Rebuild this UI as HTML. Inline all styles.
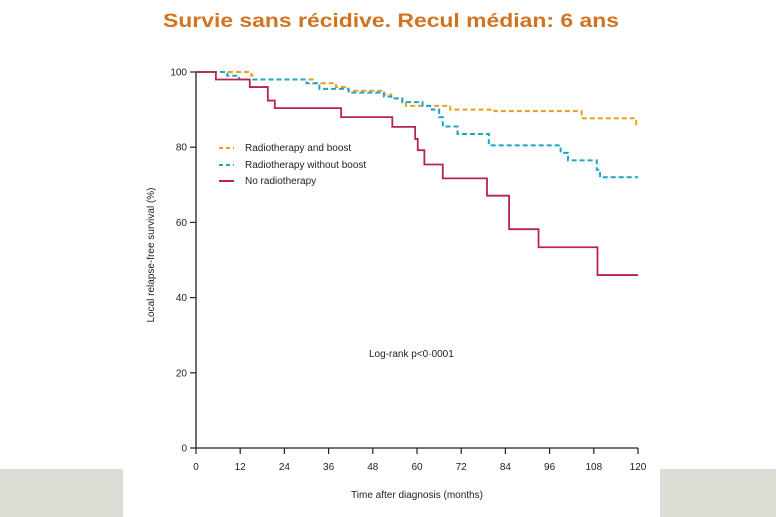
<!DOCTYPE html>
<html><head><meta charset="utf-8"><style>
body{margin:0;background:#fff;}
svg{display:block;font-family:"Liberation Sans",sans-serif;}
</style></head><body>
<svg id="chart" width="776" height="517" viewBox="0 0 776 517">
<rect x="0" y="469" width="123" height="48" fill="#dcded5"/>
<rect x="660" y="469" width="116" height="48" fill="#dcded5"/>
<text x="391" y="27" text-anchor="middle" font-size="19" font-weight="bold" fill="#d2731f" textLength="456" lengthAdjust="spacingAndGlyphs">Survie sans récidive. Recul médian: 6 ans</text>
<g id="axes"></g>
<g id="series"></g>
<g font-size="10" fill="#222">
<line x1="219" y1="148" x2="234" y2="148" stroke="#e8a21a" stroke-width="2" stroke-dasharray="4,3"/>
<text x="245" y="151">Radiotherapy and boost</text>
<line x1="219" y1="165" x2="234" y2="165" stroke="#1fa6c3" stroke-width="2" stroke-dasharray="4,3"/>
<text x="245" y="168">Radiotherapy without boost</text>
<line x1="219" y1="181" x2="234" y2="181" stroke="#b8234f" stroke-width="2"/>
<text x="245" y="184">No radiotherapy</text>
</g>
<text x="369" y="357" font-size="10" fill="#222">Log-rank p&lt;0·0001</text>
<text x="417" y="498" text-anchor="middle" font-size="10" fill="#222">Time after diagnosis (months)</text>
<text transform="translate(154,255) rotate(-90)" text-anchor="middle" font-size="10" fill="#222">Local relapse-free survival (%)</text>
</svg>
<script>
const xTicks=[0,12,24,36,48,60,72,84,96,108,120];
const yTicks=[0,20,40,60,80,100];
const boostT=[0,15,15.5,31.7,38,41.4,51,53,56,57,69,81,104.7,119.5];
const boostS=[100,99,98,97,96,95,94,93,92,91,90,89.6,87.7,86];
const noBoostT=[0,8.5,11.7,30,33.5,41.4,51,53,56,61.5,64,66,67,71,79.5,99,101,108.8,109.7];
const noBoostS=[100,99,98,97,95.5,94.5,93.5,93,92,91,90,88,85.5,83.5,80.5,78.5,76.5,74,72];
const noRtT=[0,5.4,14.6,19.5,21.4,39.4,53.3,59.5,60.2,62,67,79,85,93,109];
const noRtS=[100,98,96,92.4,90.4,88,85.4,82.2,79.2,75.4,71.7,67.1,58.2,53.4,46];
const X0=196,X1=638,Y0=448,Y1=72;
const sx=t=>X0+(t/120)*(X1-X0);
const sy=v=>Y0-(v/100)*(Y0-Y1);
const NS="http://www.w3.org/2000/svg";
const axes=document.getElementById('axes');
function mk(tag,attrs,parent){const e=document.createElementNS(NS,tag);for(const k in attrs)e.setAttribute(k,attrs[k]);parent.appendChild(e);return e;}
let l=mk('line',{x1:X0,y1:Y1,x2:X0,y2:Y0,stroke:'#222','stroke-width':1.3},axes);


l=mk('line',{x1:X0,y1:Y0,x2:X1,y2:Y0,stroke:'#222','stroke-width':1.3},axes);


xTicks.forEach(t=>{
 const tk=mk('line',{x1:sx(t),y1:Y0,x2:sx(t),y2:Y0+6,stroke:'#222','stroke-width':1.2},axes);
 
 
 const tx=mk('text',{x:sx(t),y:Y0+22,'text-anchor':'middle','font-size':10,fill:'#222'},axes);
 tx.textContent=t;
 
 
});
yTicks.forEach(v=>{
 const tk=mk('line',{x1:X0-6,y1:sy(v),x2:X0,y2:sy(v),stroke:'#222','stroke-width':1.2},axes);
 
 
 const tx=mk('text',{x:X0-9,y:sy(v)+3.5,'text-anchor':'end','font-size':10,fill:'#222'},axes);
 tx.textContent=v;
 
 
});
const ser=document.getElementById('series');
function step(T,S,end){let d='M'+sx(T[0])+','+sy(S[0]);for(let i=1;i<T.length;i++){d+='H'+sx(T[i])+'V'+sy(S[i]);}d+='H'+sx(end);return d;}
let p=mk('path',{d:step(boostT,boostS,120),fill:'none',stroke:'#e8a21a','stroke-width':2,'stroke-dasharray':'5,3'},ser);


p=mk('path',{d:step(noBoostT,noBoostS,120),fill:'none',stroke:'#1fa6c3','stroke-width':2,'stroke-dasharray':'5,3'},ser);


p=mk('path',{d:step(noRtT,noRtS,120),fill:'none',stroke:'#b8234f','stroke-width':1.8},ser);


</script>
</body></html>
